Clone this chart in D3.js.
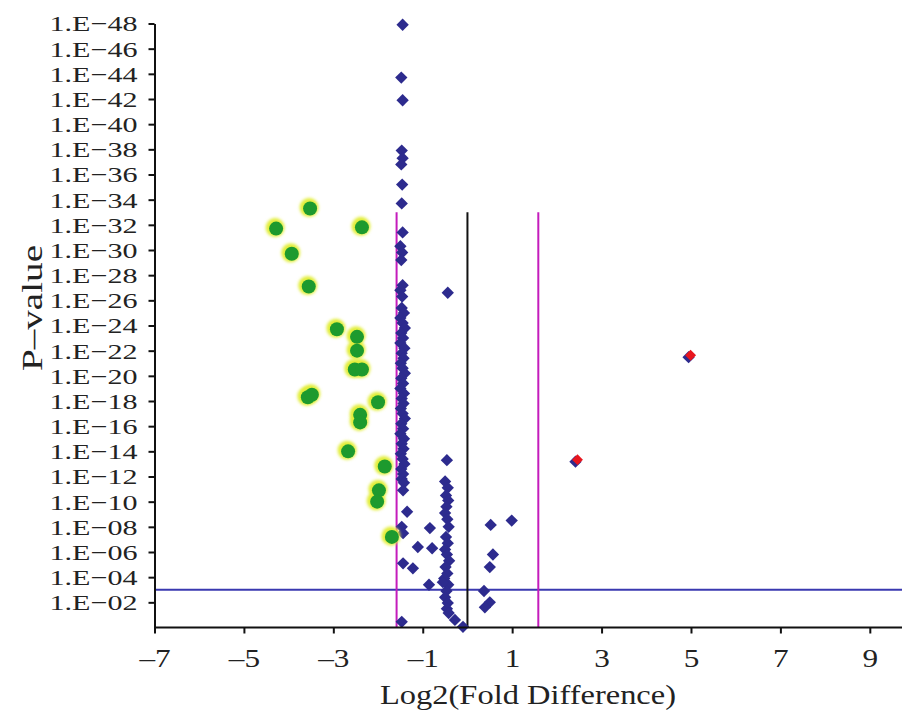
<!DOCTYPE html>
<html>
<head>
<meta charset="utf-8">
<title>Volcano plot</title>
<script src="https://cdnjs.cloudflare.com/ajax/libs/d3/7.8.5/d3.min.js"></script>
<style>
body { margin: 0; background: #fff; }
svg { display: block; }
text { font-family: "Liberation Serif", "Times New Roman", serif; fill: #222; }
.axis path, .axis line { stroke: #111; stroke-width: 2; }
.axis text { font-size: 26px; }
</style>
</head>
<body>
<svg width="902" height="716"></svg>
<script>
// x: log2 fold difference, y: -log10(p)
var xTicks = [-7, -5, -3, -1, 1, 3, 5, 7, 9];
var yTickExps = [2, 4, 6, 8, 10, 12, 14, 16, 18, 20, 22, 24, 26, 28, 30, 32, 34, 36, 38, 40, 42, 44, 46, 48];

var blueX = [
  -1.45, -1.48, -1.45, -1.47, -1.45, -1.48, -1.46, -1.47, -1.45, -1.50, -1.46, -1.48, -1.45, -1.50, -1.46,
  -1.47, -1.42, -1.50, -1.45, -1.40, -1.48, -1.44, -1.50, -1.41, -1.47, -1.43, -1.49, -1.45, -1.40, -1.48,
  -1.44, -1.50, -1.42, -1.47, -1.43, -1.49, -1.45, -1.40, -1.48, -1.44, -1.50, -1.42, -1.47, -1.43, -1.49,
  -1.45, -1.41, -1.48, -1.44, -1.47, -1.42,
  -1.44, -1.35, -1.47, -1.44, -1.44, -1.22, -1.47, -0.84, -1.11, -0.79, -0.86,
  -0.46, -0.50, -0.44, -0.48, -0.43, -0.47, -0.50, -0.45, -0.42, -0.48, -0.44, -0.50, -0.46, -0.41, -0.49,
  -0.45, -0.52, -0.43, -0.47, -0.50, -0.44, -0.46, -0.42, -0.55, -0.28, -0.10, -0.44,
  0.52, 0.99, 0.57, 0.50, 0.37, 0.50, 0.39
];
var blueY = [
  47.9, 43.7, 41.9, 37.9, 37.3, 36.8, 35.2, 33.7, 31.4, 30.3, 29.8, 29.2, 27.2, 26.8, 26.3,
  25.4, 25.0, 24.6, 24.2, 23.8, 23.4, 23.0, 22.6, 22.2, 21.8, 21.4, 21.0, 20.6, 20.2, 19.8,
  19.4, 19.0, 18.6, 18.2, 17.8, 17.4, 17.0, 16.6, 16.2, 15.8, 15.4, 15.0, 14.6, 14.2, 13.8,
  13.4, 13.0, 12.6, 12.2, 11.8, 11.5,
  10.9, 9.2, 8.0, 7.5, 5.1, 4.7, 0.45, 7.9, 6.4, 6.3, 3.4,
  13.3, 11.6, 11.1, 10.5, 10.1, 9.6, 9.1, 8.6, 8.0, 7.2, 6.7, 6.2, 5.8, 5.3, 4.8,
  4.3, 3.9, 3.4, 2.9, 2.4, 1.95, 1.5, 1.15, 3.6, 0.6, 0.05, 26.6,
  8.15, 8.5, 5.8, 4.8, 2.9, 2.0, 1.6
];
var greenX = [-3.52, -4.28, -2.36, -3.93, -3.55, -2.92, -2.47, -2.47, -2.52, -2.36, -3.57, -3.48,
  -2.00, -2.40, -2.40, -2.67, -1.85, -1.98, -2.02, -1.69];
var greenY = [33.3, 31.7, 31.8, 29.7, 27.1, 23.7, 23.1, 22.0, 20.5, 20.5, 18.3, 18.5,
  17.9, 16.9, 16.3, 14.0, 12.8, 10.9, 10.0, 7.2];
var redX = [4.98, 2.45];
var redY = [21.6, 13.3];

var foldCut = Math.log2(3);   // magenta lines
var pCut = 3;                 // 1.E-03
var lineTop = 33;

var svg = d3.select("svg");
var x = d3.scaleLinear().domain([-7, 9.72]).range([154.5, 902]);
var y = d3.scaleLinear().domain([0, 48]).range([627.5, 23.5]);

var defs = svg.append("defs");
defs.append("filter").attr("id", "glow")
  .attr("x", "-50%").attr("y", "-50%").attr("width", "200%").attr("height", "200%")
  .append("feGaussianBlur").attr("stdDeviation", 1.4);

// reference lines
svg.append("line")
  .attr("x1", x(-7)).attr("x2", 902)
  .attr("y1", y(pCut)).attr("y2", y(pCut))
  .attr("stroke", "#3a38b0").attr("stroke-width", 2);
[-foldCut, foldCut].forEach(function (v) {
  svg.append("line")
    .attr("x1", x(v)).attr("x2", x(v))
    .attr("y1", y(0)).attr("y2", y(lineTop))
    .attr("stroke", "#c41cbc").attr("stroke-width", 2);
});
svg.append("line")
  .attr("x1", x(0)).attr("x2", x(0))
  .attr("y1", y(0)).attr("y2", y(lineTop))
  .attr("stroke", "#111").attr("stroke-width", 2);

// points
var diamond = d3.symbol().type(d3.symbolSquare).size(76);
var blue = d3.range(blueX.length).map(function (i) { return [blueX[i], blueY[i]]; });
svg.append("g").selectAll("path")
  .data(blue).enter().append("path")
  .attr("d", diamond)
  .attr("transform", function (d) { return "translate(" + x(d[0]) + "," + y(d[1]) + ") rotate(45)"; })
  .attr("fill", "#2d2b8e");

var green = d3.range(greenX.length).map(function (i) { return [greenX[i], greenY[i]]; });
var gg = svg.append("g");
gg.selectAll(".halo")
  .data(green).enter().append("circle")
  .attr("class", "halo")
  .attr("cx", function (d) { return x(d[0]) - 1; })
  .attr("cy", function (d) { return y(d[1]) - 1; })
  .attr("r", 9.5)
  .attr("fill", "#e2ee3a")
  .attr("filter", "url(#glow)");
gg.selectAll(".dot")
  .data(green).enter().append("circle")
  .attr("class", "dot")
  .attr("cx", function (d) { return x(d[0]); })
  .attr("cy", function (d) { return y(d[1]); })
  .attr("r", 7)
  .attr("fill", "#1d9a2e");

var red = d3.range(redX.length).map(function (i) { return [redX[i], redY[i]]; });
var rg = svg.append("g");
rg.selectAll(".under")
  .data(red).enter().append("path")
  .attr("class", "under")
  .attr("d", diamond)
  .attr("transform", function (d) { return "translate(" + (x(d[0]) - 1.5) + "," + (y(d[1]) + 1.5) + ") rotate(45)"; })
  .attr("fill", "#2d2b8e");
rg.selectAll(".top")
  .data(red).enter().append("path")
  .attr("class", "top")
  .attr("d", d3.symbol().type(d3.symbolSquare).size(60))
  .attr("transform", function (d) { return "translate(" + (x(d[0]) + 0.5) + "," + (y(d[1]) - 0.5) + ") rotate(45)"; })
  .attr("fill", "#e8161e");

// axes
var xAxis = svg.append("g")
  .attr("class", "axis")
  .attr("transform", "translate(0," + y(0) + ")")
  .call(d3.axisBottom(x).tickValues(xTicks).tickSize(6).tickSizeOuter(0)
    .tickFormat(function (d) { return d < 0 ? "\u2013" + Math.abs(d) : d; }));
xAxis.selectAll("text")
  .attr("y", 40).attr("dy", null)
  .attr("transform", "scale(1.2,1)");
xAxis.select(".domain").attr("d", "M" + x(-7) + ",0H902");

var yAxis = svg.append("g")
  .attr("class", "axis")
  .attr("transform", "translate(" + x(-7) + ",0)")
  .call(d3.axisLeft(y).tickValues(yTickExps).tickSize(6).tickSizeOuter(0)
    .tickFormat(function (d) { return "1.E\u2212" + (d < 10 ? "0" + d : d); }));
yAxis.selectAll("text")
  .attr("x", -17)
  .style("font-size", "22px")
  .attr("dy", "0.34em")
  .attr("textLength", 88)
  .attr("lengthAdjust", "spacingAndGlyphs");

// titles
svg.append("text")
  .attr("x", 528).attr("y", 704)
  .attr("text-anchor", "middle")
  .attr("font-size", 28)
  .attr("textLength", 296)
  .attr("lengthAdjust", "spacingAndGlyphs")
  .text("Log2(Fold Difference)");
svg.append("text")
  .attr("transform", "translate(42,308) rotate(-90)")
  .attr("text-anchor", "middle")
  .attr("font-size", 29)
  .attr("textLength", 126)
  .attr("lengthAdjust", "spacingAndGlyphs")
  .text("P\u2013value");
</script>
</body>
</html>
